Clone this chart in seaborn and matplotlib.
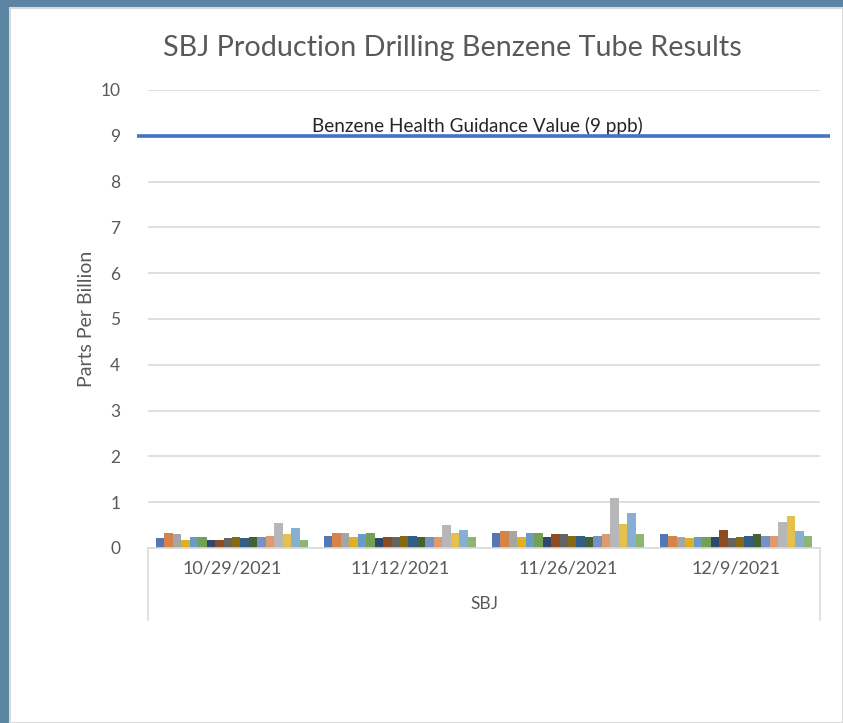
import matplotlib
matplotlib.use("Agg")
import matplotlib.pyplot as plt
import seaborn as sns
import pandas as pd
from matplotlib.patches import Rectangle

dates = ["10/29/2021", "11/12/2021", "11/26/2021", "12/9/2021"]
series = [f"Tube {i}" for i in range(1, 19)]
colors = ["#4472C4", "#ED7D31", "#A5A5A5", "#FFC000", "#5B9BD5", "#70AD47",
          "#264478", "#9E480E", "#636363", "#997300", "#255E91", "#43682B",
          "#698ED0", "#F1975A", "#B7B7B7", "#FFCD33", "#7CAFDD", "#8CC168"]
vals_1029 = [0.21, 0.32, 0.30, 0.17, 0.23, 0.23, 0.17, 0.17, 0.21, 0.23, 0.21, 0.23, 0.23, 0.26, 0.54, 0.30, 0.43, 0.17]
vals_1112 = [0.26, 0.32, 0.32, 0.23, 0.30, 0.32, 0.21, 0.23, 0.23, 0.26, 0.26, 0.23, 0.23, 0.23, 0.50, 0.32, 0.40, 0.23]
vals_1126 = [0.32, 0.37, 0.37, 0.23, 0.32, 0.32, 0.23, 0.30, 0.30, 0.26, 0.26, 0.23, 0.26, 0.30, 1.09, 0.52, 0.77, 0.30]
vals_1209 = [0.30, 0.26, 0.23, 0.21, 0.23, 0.23, 0.23, 0.40, 0.21, 0.23, 0.26, 0.30, 0.26, 0.26, 0.57, 0.69, 0.37, 0.26]
guidance = 9
guidance_label = "Benzene Health Guidance Value (9 ppb)"
title = "SBJ Production Drilling Benzene Tube Results"
y_label = "Parts Per Billion"
x_group = "SBJ"

rows = []
for d, vals in zip(dates, [vals_1029, vals_1112, vals_1126, vals_1209]):
    for s, v in zip(series, vals):
        rows.append({"date": d, "series": s, "value": v})
df = pd.DataFrame(rows)

sns.set_style("white")
plt.rcParams["font.family"] = ["Lato", "DejaVu Sans"]

W, H = 843, 723
fig = plt.figure(figsize=(W / 100, H / 100), dpi=100)
fig.patch.set_facecolor("#5B84A2")
fig.patches.append(Rectangle((10 / W, 0), 1 - 10 / W, 1 - 8 / H, transform=fig.transFigure,
                             facecolor="white", edgecolor="#D9D9D9", linewidth=1.5, zorder=-5))

ax = fig.add_axes([148 / W, 1 - 548 / H, 672 / W, 458 / H])
ax.set_zorder(2)
ax.patch.set_alpha(0)
sns.barplot(data=df, x="date", y="value", hue="series", palette=colors,
            width=0.91, gap=0, linewidth=0, legend=False, ax=ax, errorbar=None)

ax.set_yticks(range(0, 11))
ax.yaxis.grid(True, color="#D9D9D9", linewidth=1.2)
ax.set_axisbelow(True)
for sp in ["top", "right", "left"]:
    ax.spines[sp].set_visible(False)
ax.spines["bottom"].set_color("#D9D9D9")
ax.spines["bottom"].set_linewidth(1.2)
ax.tick_params(axis="y", length=0, labelsize=12.5, labelcolor="#595959", pad=20)
ax.tick_params(axis="x", length=0, labelsize=13, labelcolor="#595959", pad=9)
ax.set_xlabel(x_group, fontsize=12.5, color="#595959", labelpad=14)
ax.set_ylabel(y_label, fontsize=14, color="#595959")
ax.yaxis.set_label_coords(-0.091, 0.5)
ax.yaxis.label.set_verticalalignment("center")

# category box lines
for xa in (0, 1):
    ax.plot([xa, xa], [0, -72 / 458], transform=ax.transAxes, color="#D9D9D9",
            linewidth=1.2, clip_on=False)

ax.plot([-0.0164, 1.015], [guidance, guidance], transform=ax.get_yaxis_transform(),
        color="#4472C4", linewidth=2.6, clip_on=False, zorder=5, solid_capstyle="butt")
ax.text(0.49, guidance + 0.02, guidance_label, transform=ax.get_yaxis_transform(),
        ha="center", va="bottom", fontsize=13.6, color="#262626")

ax.set_xlim(-0.5, len(dates) - 0.5)
ax.set_ylim(0, 10)

fig.text(452 / W, 1 - 48 / H, title, ha="center", va="center", fontsize=20.7, color="#595959")

fig.savefig("out.png", dpi=100, facecolor=fig.get_facecolor())
